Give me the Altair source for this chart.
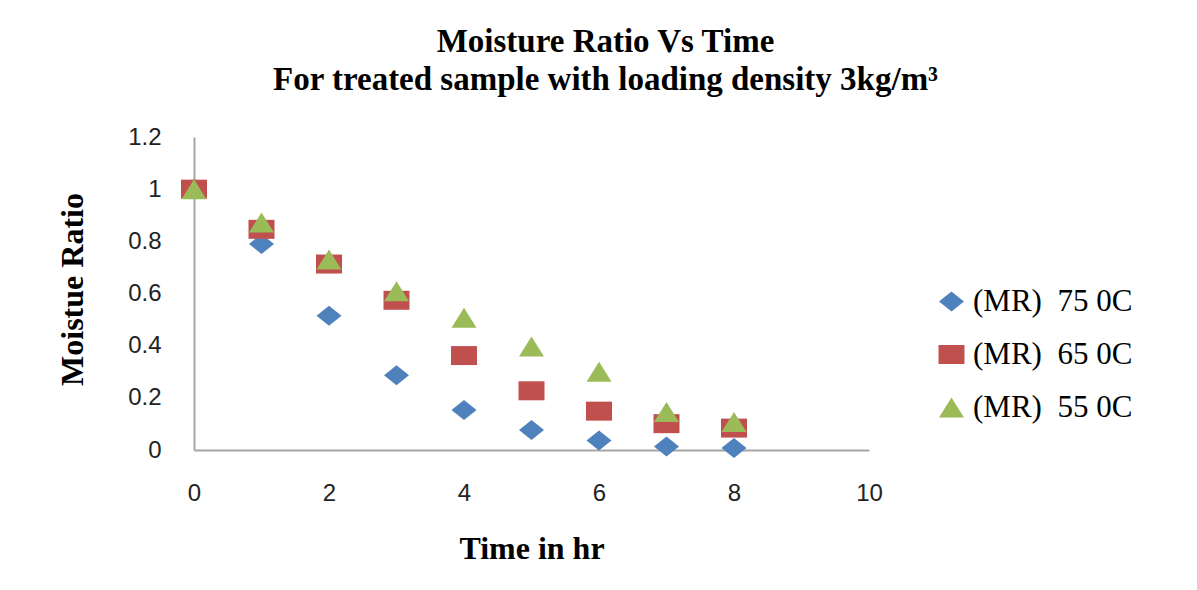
import altair as alt
import pandas as pd

# ---- data ----
time_hr = [0, 1, 2, 3, 4, 5, 6, 7, 8]
mr_75 = [1.0, 0.79, 0.515, 0.287, 0.153, 0.077, 0.036, 0.013, 0.008]
mr_65 = [1.0, 0.846, 0.713, 0.574, 0.362, 0.227, 0.149, 0.101, 0.084]
mr_55 = [1.0, 0.872, 0.730, 0.609, 0.507, 0.397, 0.300, 0.146, 0.107]
series_names = ["(MR)\u00a0 75 0C", "(MR)\u00a0 65 0C", "(MR)\u00a0 55 0C"]
series_colors = ["#4F81BD", "#C0504D", "#9BBB59"]
series_shapes = [
    "M-1.25,0L0,-1L1.25,0L0,1Z",
    "M-1.3,-0.95L1.3,-0.95L1.3,0.95L-1.3,0.95Z",
    "M-1.25,1L1.25,1L0,-1Z",
]
x_ticks = [0, 2, 4, 6, 8, 10]
y_ticks = [0, 0.2, 0.4, 0.6, 0.8, 1, 1.2]

rows = []
for name, vals in zip(series_names, [mr_75, mr_65, mr_55]):
    for t, v in zip(time_hr, vals):
        rows.append({"time": t, "mr": v, "series": name})
df = pd.DataFrame(rows)

serif = "Liberation Serif"
sans = "Liberation Sans"

chart = (
    alt.Chart(df)
    .mark_point(filled=True, size=400, opacity=1, strokeWidth=0)
    .encode(
        x=alt.X(
            "time:Q",
            scale=alt.Scale(domain=[0, 10], nice=False, zero=False),
            axis=alt.Axis(
                title="Time in hr",
                values=x_ticks,
                format="~r",
                grid=False,
                ticks=False,
                labelFlush=False,
                labelFont=sans,
                labelFontSize=24,
                labelColor="#222222",
                labelBaseline="middle",
                labelPadding=43,
                domainColor="#A6A6A6",
                domainWidth=2,
                titleFont=serif,
                titleFontSize=32,
                titleFontWeight="bold",
                titleColor="#000000",
                titleBaseline="middle",
                titleY=98,
            ),
        ),
        y=alt.Y(
            "mr:Q",
            scale=alt.Scale(domain=[0, 1.2], nice=False),
            axis=alt.Axis(
                title="Moistue Ratio",
                values=y_ticks,
                format="~r",
                grid=False,
                ticks=False,
                labelFlush=False,
                labelFont=sans,
                labelFontSize=24,
                labelColor="#222222",
                labelPadding=33,
                domainColor="#A6A6A6",
                domainWidth=2,
                titleFont=serif,
                titleFontSize=32,
                titleFontWeight="bold",
                titleColor="#000000",
                titleAngle=270,
                titleAlign="center",
                titleBaseline="middle",
                titleX=-122,
                titleY=152,
            ),
        ),
        color=alt.Color(
            "series:N",
            scale=alt.Scale(domain=series_names, range=series_colors),
            legend=alt.Legend(
                title=None,
                orient="none",
                legendX=742,
                legendY=149,
                labelFont=serif,
                labelFontSize=31,
                labelColor="#000000",
                symbolSize=400,
                symbolStrokeWidth=0,
                symbolOpacity=1,
                labelOffset=6,
                rowPadding=21,
            ),
        ),
        shape=alt.Shape(
            "series:N",
            scale=alt.Scale(domain=series_names, range=series_shapes),
        ),
    )
    .properties(
        width=675,
        height=313,
        title=alt.Title(
            ["Moisture Ratio Vs Time", "For treated sample with loading density 3kg/m\u00b3"],
            font=serif,
            fontSize=33,
            fontWeight="bold",
            color="#000000",
            lineHeight=38,
            anchor="middle",
            dx=74,
            dy=-24,
        ),
        autosize=alt.AutoSizeParams(type="none"),
        padding={"left": 194, "top": 137, "right": 328, "bottom": 140},
        background="white",
    )
    .configure_view(stroke=None)
)

chart.save("out.html", embed_options={"renderer": "svg", "actions": False})
